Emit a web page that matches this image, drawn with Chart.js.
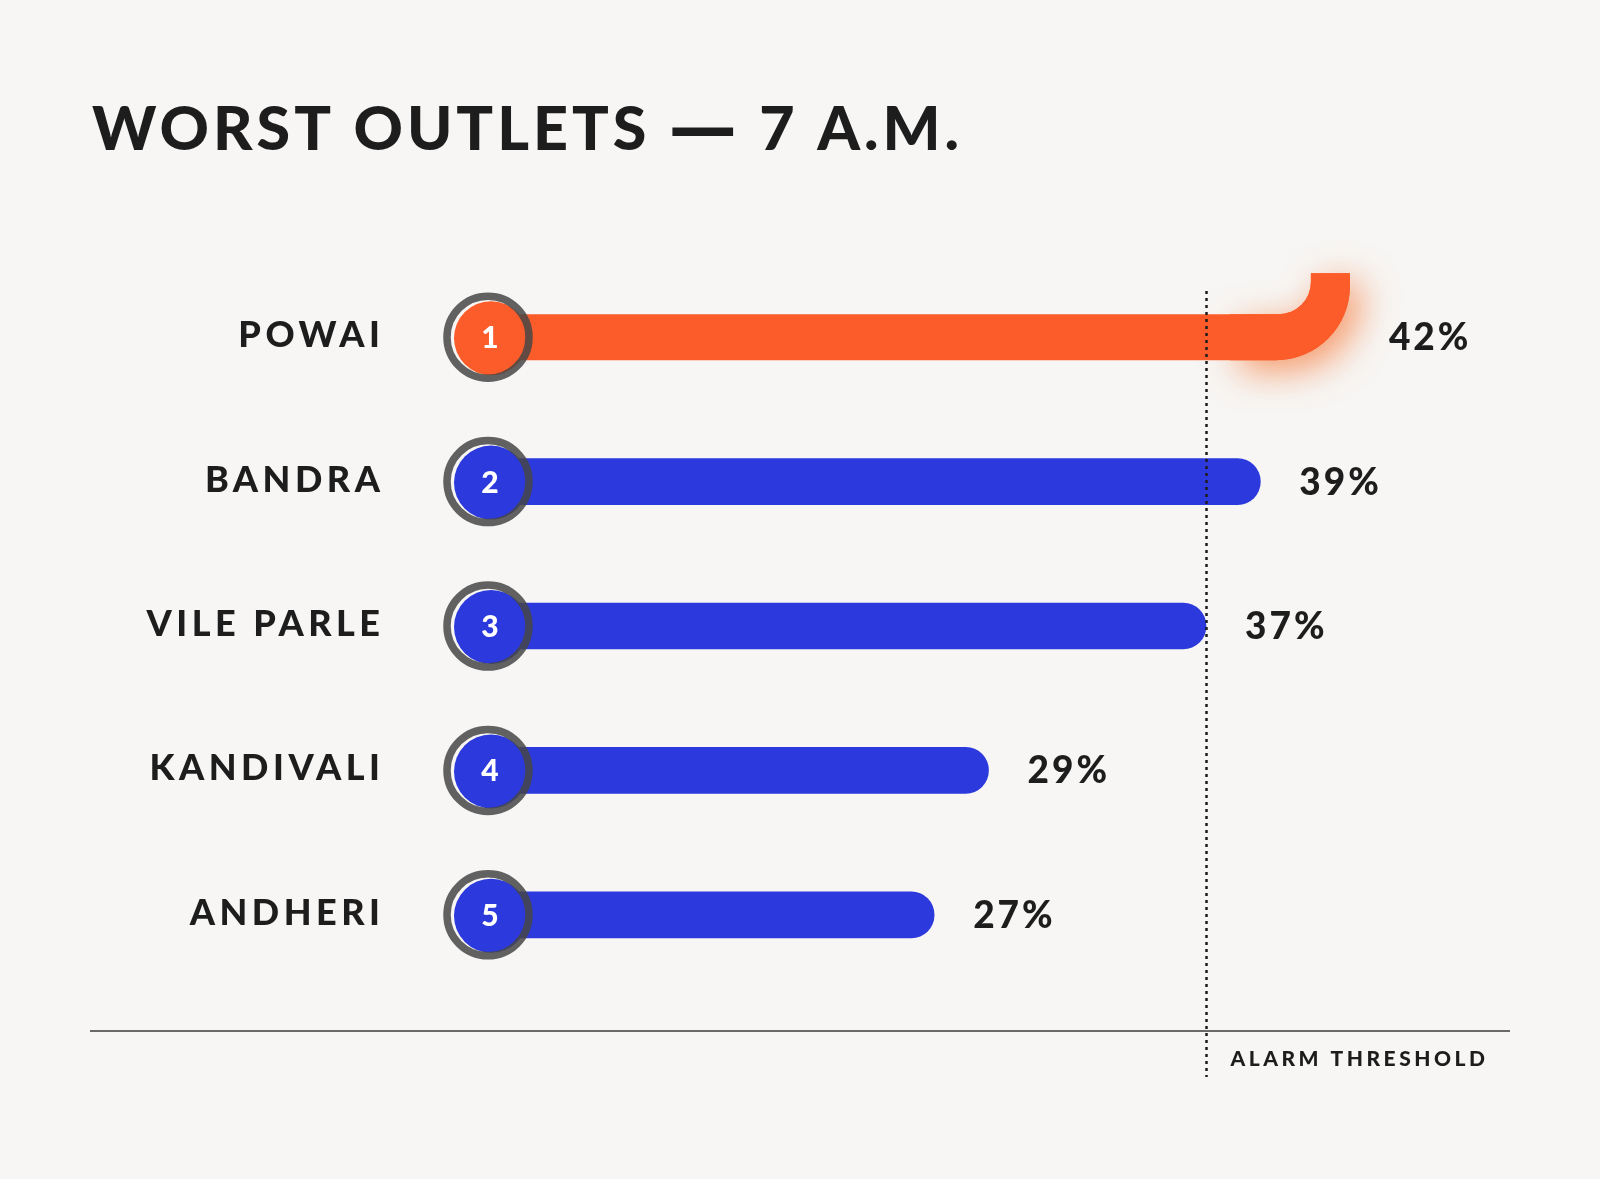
<!DOCTYPE html>
<html>
<head>
<meta charset="utf-8">
<script src="https://cdn.jsdelivr.net/npm/chart.js@4.4.1/dist/chart.umd.min.js"></script>
<style>
  html, body { margin: 0; padding: 0; background: #f7f6f4; }
  #wrap { width: 1600px; height: 1179px; }
</style>
</head>
<body>
<div id="wrap"><canvas id="outletChart" width="1600" height="1179"></canvas></div>
<script>
// Data
const outlets = ['POWAI', 'BANDRA', 'VILE PARLE', 'KANDIVALI', 'ANDHERI'];
const failRates = [42, 39, 37, 29, 27];
const ranks = ['1', '2', '3', '4', '5'];
const alarmThreshold = 37;
const titleParts = ['WORST OUTLETS ', '—', ' 7 A.M.'];
const thresholdLabel = 'ALARM THRESHOLD';

const ORANGE = '#fb5c29';
const BLUE = '#2b39dd';
const INK = '#1d1d1d';
const FONT = 'Lato, "DejaVu Sans", sans-serif';
const DASH_FONT = '"DejaVu Sans", sans-serif';

function spacedText(ctx, text, x, y, size, spacing, align, family) {
  ctx.font = `900 ${size}px ${family || FONT}`;
  ctx.letterSpacing = spacing + 'px';
  ctx.textAlign = align || 'left';
  ctx.textBaseline = 'alphabetic';
  ctx.fillText(text, align === 'right' ? x + spacing : x, y);
  const w = ctx.measureText(text).width;
  ctx.letterSpacing = '0px';
  return w;
}

// bar that ends in an upward hook (top entry only)
function hookPath(ctx, x0, y, h, xe) {
  const y1 = y - h / 2, y2 = y + h / 2;
  const w = 39, r = 32, R = 74, topY = y - 64;
  ctx.beginPath();
  ctx.moveTo(x0, y1);
  ctx.lineTo(xe - w - r, y1);
  ctx.arc(xe - w - r, y1 - r, r, Math.PI / 2, 0, true);
  ctx.lineTo(xe - w, topY);
  ctx.lineTo(xe, topY);
  ctx.lineTo(xe, y2 - R);
  ctx.arc(xe - R, y2 - R, R, 0, Math.PI / 2, false);
  ctx.lineTo(x0, y2);
  ctx.closePath();
}

const decorPlugin = {
  id: 'decor',
  beforeDatasetsDraw(chart) {
    const ctx = chart.ctx;
    const bar = chart.getDatasetMeta(0).data[0];
    const xe = bar.x + 8;
    // soft orange glow around the hook
    ctx.save();
    ctx.shadowColor = 'rgba(245, 110, 40, 0.7)';
    ctx.shadowBlur = 36;
    ctx.shadowOffsetX = 10;
    ctx.shadowOffsetY = 10;
    ctx.fillStyle = ORANGE;
    hookPath(ctx, xe - 120, bar.y, bar.height, xe);
    ctx.fill();
    ctx.restore();
  },
  afterDatasetsDraw(chart) {
    const ctx = chart.ctx;
    const area = chart.chartArea;
    const xs = chart.scales.x;
    const bars = chart.getDatasetMeta(0).data;

    // hooked top bar
    ctx.save();
    ctx.fillStyle = ORANGE;
    hookPath(ctx, bars[0].base, bars[0].y, bars[0].height, bars[0].x + 8);
    ctx.fill();
    ctx.restore();

    // alarm threshold, dotted
    const tx = Math.round(xs.getPixelForValue(alarmThreshold)) + 0.5;
    ctx.save();
    ctx.strokeStyle = INK;
    ctx.lineWidth = 2.5;
    ctx.setLineDash([3, 4]);
    ctx.beginPath();
    ctx.moveTo(tx, area.top + 26);
    ctx.lineTo(tx, area.bottom + 90);
    ctx.stroke();
    ctx.restore();

    // baseline
    ctx.save();
    ctx.strokeStyle = '#3a3a3a';
    ctx.lineWidth = 1.5;
    ctx.beginPath();
    ctx.moveTo(90, area.bottom + 44);
    ctx.lineTo(1510, area.bottom + 44);
    ctx.stroke();
    ctx.restore();

    bars.forEach((bar, i) => {
      const cx = bar.base + 17, cy = bar.y;
      // rank badge
      ctx.save();
      ctx.fillStyle = i === 0 ? ORANGE : BLUE;
      ctx.beginPath();
      ctx.arc(cx + 2, cy + 1, 37, 0, Math.PI * 2);
      ctx.fill();
      ctx.strokeStyle = 'rgba(70, 70, 70, 0.85)';
      ctx.lineWidth = 7.5;
      ctx.beginPath();
      ctx.arc(cx - 1, cy, 41, 0, Math.PI * 2);
      ctx.stroke();
      ctx.fillStyle = '#ffffff';
      ctx.font = `900 30px ${FONT}`;
      ctx.textAlign = 'center';
      ctx.textBaseline = 'alphabetic';
      ctx.fillText(ranks[i], cx + 1, cy + 11);
      ctx.restore();

      // outlet name
      ctx.save();
      ctx.fillStyle = INK;
      spacedText(ctx, outlets[i], 380, cy + 10, 36, 4.5, 'right');
      // value
      const end = i === 0 ? bar.x + 8 : bar.x;
      spacedText(ctx, failRates[i] + '%', end + 39, cy + 13, 37, 3, 'left');
      ctx.restore();
    });

    // title, the dash set in a font with a full-width em dash; spacing fitted to the width
    ctx.save();
    ctx.fillStyle = INK;
    let w0 = 0, n = 0;
    titleParts.forEach((p, k) => {
      ctx.font = k === 1 ? `900 68px ${DASH_FONT}` : `900 61px ${FONT}`;
      w0 += ctx.measureText(p).width;
      n += p.length;
    });
    const ls = (867 - w0) / (n - 1);
    let x = 92;
    x += spacedText(ctx, titleParts[0], x, 150, 61, ls, 'left');
    x += spacedText(ctx, titleParts[1], x, 150, 68, ls, 'left', DASH_FONT);
    spacedText(ctx, titleParts[2], x, 150, 61, ls, 'left');
    spacedText(ctx, thresholdLabel, tx + 24, area.bottom + 79, 21, 3.5, 'left');
    ctx.restore();
  }
};

const ctx = document.getElementById('outletChart').getContext('2d');
new Chart(ctx, {
  type: 'bar',
  data: {
    labels: outlets,
    datasets: [{
      data: failRates,
      // the top bar is drawn as a hook by the plugin
      backgroundColor: c => c.dataIndex === 0 ? 'rgba(0,0,0,0)' : BLUE,
      borderRadius: 23,
      borderSkipped: 'start',
      barThickness: 46,
      base: 10
    }]
  },
  options: {
    indexAxis: 'y',
    responsive: false,
    animation: false,
    devicePixelRatio: 1,
    layout: { padding: { left: 472, right: 95, top: 265, bottom: 192 } },
    plugins: { legend: { display: false }, tooltip: { enabled: false } },
    scales: {
      x: { type: 'linear', min: 10, max: 48, display: false },
      y: { type: 'category', display: false }
    }
  },
  plugins: [decorPlugin]
});
</script>
</body>
</html>
